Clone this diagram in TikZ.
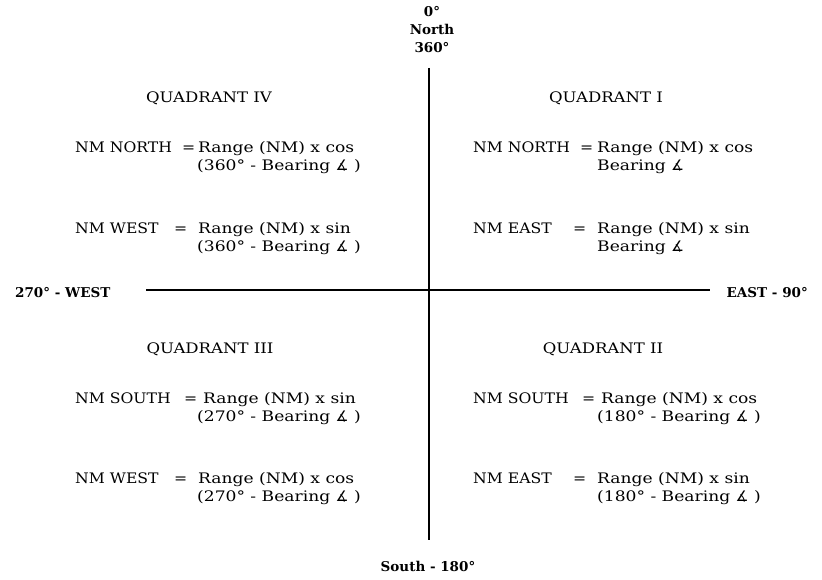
\documentclass[tikz,border=0pt]{standalone}
\usepackage{fontspec}
\setmainfont{DejaVu Serif}
\newfontfamily\lblfont{DejaVu Serif}[FakeStretch=1.08]
\newfontfamily\rhsfont{DejaVu Serif}[FakeStretch=1.18]
\newfontfamily\quadfont{DejaVu Serif}[FakeStretch=1.14]
\newfontfamily\boldfont{DejaVu Serif Bold}[FakeStretch=1.0]
\newfontfamily\angfont{DejaVu Sans}
\newcommand{\angsym}{{\angfont ∡}}
\begin{document}
\begin{tikzpicture}[x=1pt,y=-1pt,
  lbl/.style={inner sep=0pt,anchor=base west,font=\fontsize{14.5}{16}\lblfont},
  rhs/.style={inner sep=0pt,anchor=base west,font=\fontsize{14.5}{16}\rhsfont},
  bld/.style={inner sep=0pt,font=\fontsize{13.5}{15}\boldfont},
  quad/.style={inner sep=0pt,anchor=base,font=\fontsize{14.5}{16}\quadfont},
  axis/.style={line width=1.6pt}]
\useasboundingbox (0,0) rectangle (822,580);
% compass labels
\node[bld,anchor=base] (n0) at (432,17) {0°};
\node[bld,anchor=base] (n1) at (432,35) {North};
\node[bld,anchor=base] (n2) at (432,53) {360°};
\node[bld,anchor=base west] (w) at (15,297) {270° - WEST};
\node[bld,anchor=base east] (e) at (808,297) {EAST - 90°};
\node[bld,anchor=base] (s) at (428,571) {South - 180°};
% axes
\coordinate (top) at (429,68);
\coordinate (bot) at (429,540);
\coordinate (lft) at (146,290);
\coordinate (rgt) at (710,290);
\draw[axis] (top) -- (bot);
\draw[axis] (lft) -- (rgt);
% quadrant titles
\node[quad] (q4) at (209,103) {QUADRANT IV};
\node[quad] (q1) at (606,103) {QUADRANT I};
\node[quad] (q3) at (210,353) {QUADRANT III};
\node[quad] (q2) at (603,353) {QUADRANT II};
% Quadrant IV
\node[lbl] (a1) at (75,152.5) {NM NORTH};
\node[lbl] (a1e) at (182,152.5) {=};
\node[rhs] (a1r) at (198,152.5) {Range (NM) x cos};
\node[rhs] (a1b) at (197,170.5) {(360° - Bearing \angsym\ )};
\node[lbl] (a2) at (75,233.5) {NM WEST};
\node[lbl] (a2e) at (174,233.5) {=};
\node[rhs] (a2r) at (198,233.5) {Range (NM) x sin};
\node[rhs] (a2b) at (197,251.5) {(360° - Bearing \angsym\ )};
% Quadrant I
\node[lbl] (b1) at (473,152.5) {NM NORTH};
\node[lbl] (b1e) at (580,152.5) {=};
\node[rhs] (b1r) at (597,152.5) {Range (NM) x cos};
\node[rhs] (b1b) at (597,170.5) {Bearing \angsym};
\node[lbl] (b2) at (473,233.5) {NM EAST};
\node[lbl] (b2e) at (573,233.5) {=};
\node[rhs] (b2r) at (597,233.5) {Range (NM) x sin};
\node[rhs] (b2b) at (597,251.5) {Bearing \angsym};
% Quadrant III
\node[lbl] (c1) at (75,403.5) {NM SOUTH};
\node[lbl] (c1e) at (184,403.5) {=};
\node[rhs] (c1r) at (203,403.5) {Range (NM) x sin};
\node[rhs] (c1b) at (197,421.5) {(270° - Bearing \angsym\ )};
\node[lbl] (c2) at (75,483.5) {NM WEST};
\node[lbl] (c2e) at (174,483.5) {=};
\node[rhs] (c2r) at (198,483.5) {Range (NM) x cos};
\node[rhs] (c2b) at (197,501.5) {(270° - Bearing \angsym\ )};
% Quadrant II
\node[lbl] (d1) at (473,403.5) {NM SOUTH};
\node[lbl] (d1e) at (582,403.5) {=};
\node[rhs] (d1r) at (601,403.5) {Range (NM) x cos};
\node[rhs] (d1b) at (597,421.5) {(180° - Bearing \angsym\ )};
\node[lbl] (d2) at (473,483.5) {NM EAST};
\node[lbl] (d2e) at (573,483.5) {=};
\node[rhs] (d2r) at (597,483.5) {Range (NM) x sin};
\node[rhs] (d2b) at (597,501.5) {(180° - Bearing \angsym\ )};
\end{tikzpicture}
\end{document}
